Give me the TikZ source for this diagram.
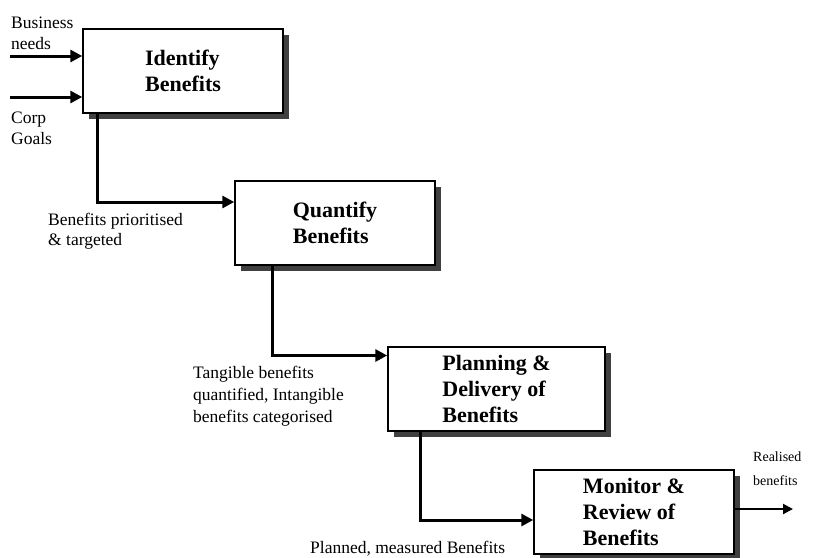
\documentclass[tikz,border=0pt]{standalone}
\usepackage{fontspec}
\setmainfont{Liberation Serif}
\usetikzlibrary{positioning, shadows, arrows.meta}
\tikzset{
  >={Triangle[length=12pt,width=12pt]},
  box/.style={draw, line width=1.5pt, fill=white, minimum width=200pt, minimum height=84pt,
    align=left, font=\fontsize{22}{26}\selectfont\bfseries,
    drop shadow={shadow xshift=6pt, shadow yshift=-6pt, fill=black!75, opacity=1}},
  flow/.style={->, line width=3pt},
  outflow/.style={-{Triangle[length=10pt,width=10pt]}, line width=2pt},
  note/.style={align=left, inner sep=0pt, anchor=base west, font=\fontsize{17.5}{21}\selectfont},
}

\begin{document}
\begin{tikzpicture}[x=1pt, y=-1pt]
        \useasboundingbox (0,0) rectangle (814,557);

        % stages
        \node[box] (identify) at (183,71) {Identify\\Benefits};
        \node[box, below right=66.5pt and -49.5pt of identify] (quantify) {Quantify\\Benefits};
        \node[box, minimum width=217pt, below right=80.5pt and -48.5pt of quantify] (planning) {Planning \&\\Delivery of\\Benefits};
        \node[box, below right=37.5pt and -72.5pt of planning] (monitor) {Monitor \&\\Review of\\Benefits};

        % free ends
        \coordinate (needs) at (10,56);
        \coordinate (goals) at (10,97);
        \coordinate (realised) at (793,509);

        % flows
        \draw[flow] (needs) -- (needs -| identify.west);
        \draw[flow] (goals) -- (goals -| identify.west);
        \draw[flow] ([xshift=15pt]identify.south west) |- ([yshift=21pt]quantify.west);
        \draw[flow] ([xshift=38pt]quantify.south west) |- ([yshift=33.5pt]planning.west);
        \draw[flow] ([xshift=33pt]planning.south west) |- ([yshift=-8pt]monitor.west);
        \draw[outflow] (monitor.east |- realised) -- (realised);

        % labels (anchored on the last line)
        \node[note] (needstext) at (11,49) {Business\\needs};
        \node[note] (goalstext) at (11,144) {Corp\\Goals};
        \node[note, font=\fontsize{17.5}{20}\selectfont] (prioritised) at (48,245) {Benefits prioritised\\\& targeted};
        \node[note, font=\fontsize{17.5}{22}\selectfont] (tangible) at (193,422) {Tangible benefits\\quantified, Intangible\\benefits categorised};
        \node[note, font=\fontsize{14}{24}\selectfont] (realisedtext) at (753,485) {Realised\\benefits};
        \node[note] (planned) at (310,553) {Planned, measured Benefits};
      \end{tikzpicture}
\end{document}
